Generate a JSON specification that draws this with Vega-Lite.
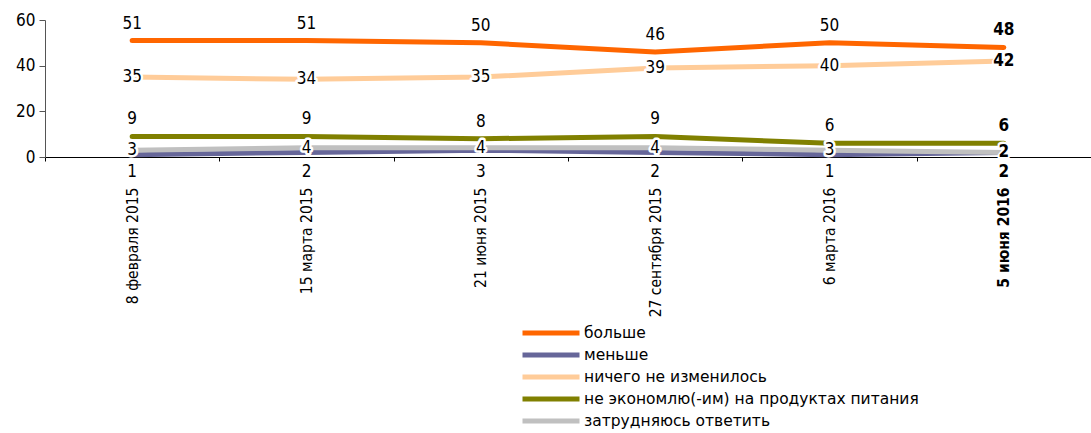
{
  "$schema": "https://vega.github.io/schema/vega-lite/v6.json",
  "width": 1046,
  "height": 137,
  "autosize": "none",
  "padding": {"left": 45, "top": 20, "right": 0, "bottom": 276},
  "background": "white",
  "config": {"view": {"stroke": null}, "font": "DejaVu Sans Condensed"},
  "data": {"values": [
    {"date": "8 февраля 2015", "series": "больше", "value": 51},
    {"date": "15 марта 2015", "series": "больше", "value": 51},
    {"date": "21 июня 2015", "series": "больше", "value": 50},
    {"date": "27 сентября 2015", "series": "больше", "value": 46},
    {"date": "6 марта 2016", "series": "больше", "value": 50},
    {"date": "5 июня 2016", "series": "больше", "value": 48},
    {"date": "8 февраля 2015", "series": "меньше", "value": 1},
    {"date": "15 марта 2015", "series": "меньше", "value": 2},
    {"date": "21 июня 2015", "series": "меньше", "value": 3},
    {"date": "27 сентября 2015", "series": "меньше", "value": 2},
    {"date": "6 марта 2016", "series": "меньше", "value": 1},
    {"date": "5 июня 2016", "series": "меньше", "value": 2},
    {"date": "8 февраля 2015", "series": "ничего не изменилось", "value": 35},
    {"date": "15 марта 2015", "series": "ничего не изменилось", "value": 34},
    {"date": "21 июня 2015", "series": "ничего не изменилось", "value": 35},
    {"date": "27 сентября 2015", "series": "ничего не изменилось", "value": 39},
    {"date": "6 марта 2016", "series": "ничего не изменилось", "value": 40},
    {"date": "5 июня 2016", "series": "ничего не изменилось", "value": 42},
    {"date": "8 февраля 2015", "series": "не экономлю(-им) на продуктах питания", "value": 9},
    {"date": "15 марта 2015", "series": "не экономлю(-им) на продуктах питания", "value": 9},
    {"date": "21 июня 2015", "series": "не экономлю(-им) на продуктах питания", "value": 8},
    {"date": "27 сентября 2015", "series": "не экономлю(-им) на продуктах питания", "value": 9},
    {"date": "6 марта 2016", "series": "не экономлю(-им) на продуктах питания", "value": 6},
    {"date": "5 июня 2016", "series": "не экономлю(-им) на продуктах питания", "value": 6},
    {"date": "8 февраля 2015", "series": "затрудняюсь ответить", "value": 3},
    {"date": "15 марта 2015", "series": "затрудняюсь ответить", "value": 4},
    {"date": "21 июня 2015", "series": "затрудняюсь ответить", "value": 4},
    {"date": "27 сентября 2015", "series": "затрудняюсь ответить", "value": 4},
    {"date": "6 марта 2016", "series": "затрудняюсь ответить", "value": 3},
    {"date": "5 июня 2016", "series": "затрудняюсь ответить", "value": 2}
  ]},
  "encoding": {
    "x": {
      "field": "date", "type": "nominal", "sort": null,
      "scale": {"type": "band", "paddingInner": 0, "paddingOuter": 0},
      "axis": {
        "title": null, "labelAngle": -90, "labelPadding": 26, "labelFontSize": 15.5,
        "labelColor": "black", "domainColor": "black", "tickColor": "black",
        "tickSize": 4, "tickBand": "extent",
        "labelFontWeight": {"condition": {"test": "datum.value == '5 июня 2016'", "value": "bold"}, "value": "normal"}
      }
    },
    "y": {
      "field": "value", "type": "quantitative",
      "scale": {"domain": [0, 60], "nice": false},
      "axis": {
        "title": null, "values": [0, 20, 40, 60], "grid": false, "labelFontSize": 17,
        "labelColor": "black", "domainColor": "#555", "tickColor": "#555", "tickSize": 6, "labelPadding": 4
      }
    }
  },
  "layer": [
    {
      "mark": {"type": "line", "strokeWidth": 5, "strokeCap": "round"},
      "encoding": {
        "color": {
          "field": "series", "type": "nominal",
          "scale": {
            "domain": ["больше", "меньше", "ничего не изменилось", "не экономлю(-им) на продуктах питания", "затрудняюсь ответить"],
            "range": ["#FF6600", "#666699", "#FFCC99", "#808000", "#C0C0C0"]
          },
          "legend": {
            "title": null, "orient": "none", "legendX": 475, "legendY": 304,
            "symbolType": "stroke", "symbolSize": 3249, "symbolStrokeWidth": 5,
            "clipHeight": 18, "labelFont": "DejaVu Sans", "labelFontSize": 15.5, "labelColor": "black", "rowPadding": 4, "labelOffset": 2, "labelLimit": 500
          }
        }
      }
    },
    {
      "transform": [{"filter": "datum.series == 'ничего не изменилось' || datum.series == 'затрудняюсь ответить'"}],
      "mark": {"type": "text", "fontSize": 17, "stroke": "white", "strokeWidth": 5, "strokeJoin": "round", "baseline": "middle"},
      "encoding": {"text": {"field": "value"}}
    },
    {
      "transform": [{"filter": "(datum.series == 'ничего не изменилось' || datum.series == 'затрудняюсь ответить') && datum.date != '5 июня 2016'"}],
      "mark": {"type": "text", "fontSize": 17, "color": "black", "baseline": "middle"},
      "encoding": {"text": {"field": "value"}}
    },
    {
      "transform": [{"filter": "(datum.series == 'ничего не изменилось' || datum.series == 'затрудняюсь ответить') && datum.date == '5 июня 2016'"}],
      "mark": {"type": "text", "fontSize": 17, "fontWeight": "bold", "color": "black", "baseline": "middle"},
      "encoding": {"text": {"field": "value"}}
    },
    {
      "transform": [{"filter": "(datum.series == 'больше' || datum.series == 'не экономлю(-им) на продуктах питания') && datum.date != '5 июня 2016'"}],
      "mark": {"type": "text", "fontSize": 17, "color": "black", "baseline": "middle", "dy": -17},
      "encoding": {"text": {"field": "value"}}
    },
    {
      "transform": [{"filter": "(datum.series == 'больше' || datum.series == 'не экономлю(-им) на продуктах питания') && datum.date == '5 июня 2016'"}],
      "mark": {"type": "text", "fontSize": 17, "fontWeight": "bold", "color": "black", "baseline": "middle", "dy": -17},
      "encoding": {"text": {"field": "value"}}
    },
    {
      "transform": [{"filter": "datum.series == 'меньше' && datum.date != '5 июня 2016'"}],
      "mark": {"type": "text", "fontSize": 17, "color": "black", "baseline": "middle", "dy": 15},
      "encoding": {"y": {"datum": 0}, "text": {"field": "value"}}
    },
    {
      "transform": [{"filter": "datum.series == 'меньше' && datum.date == '5 июня 2016'"}],
      "mark": {"type": "text", "fontSize": 17, "fontWeight": "bold", "color": "black", "baseline": "middle", "dy": 15},
      "encoding": {"y": {"datum": 0}, "text": {"field": "value"}}
    }
  ]
}
